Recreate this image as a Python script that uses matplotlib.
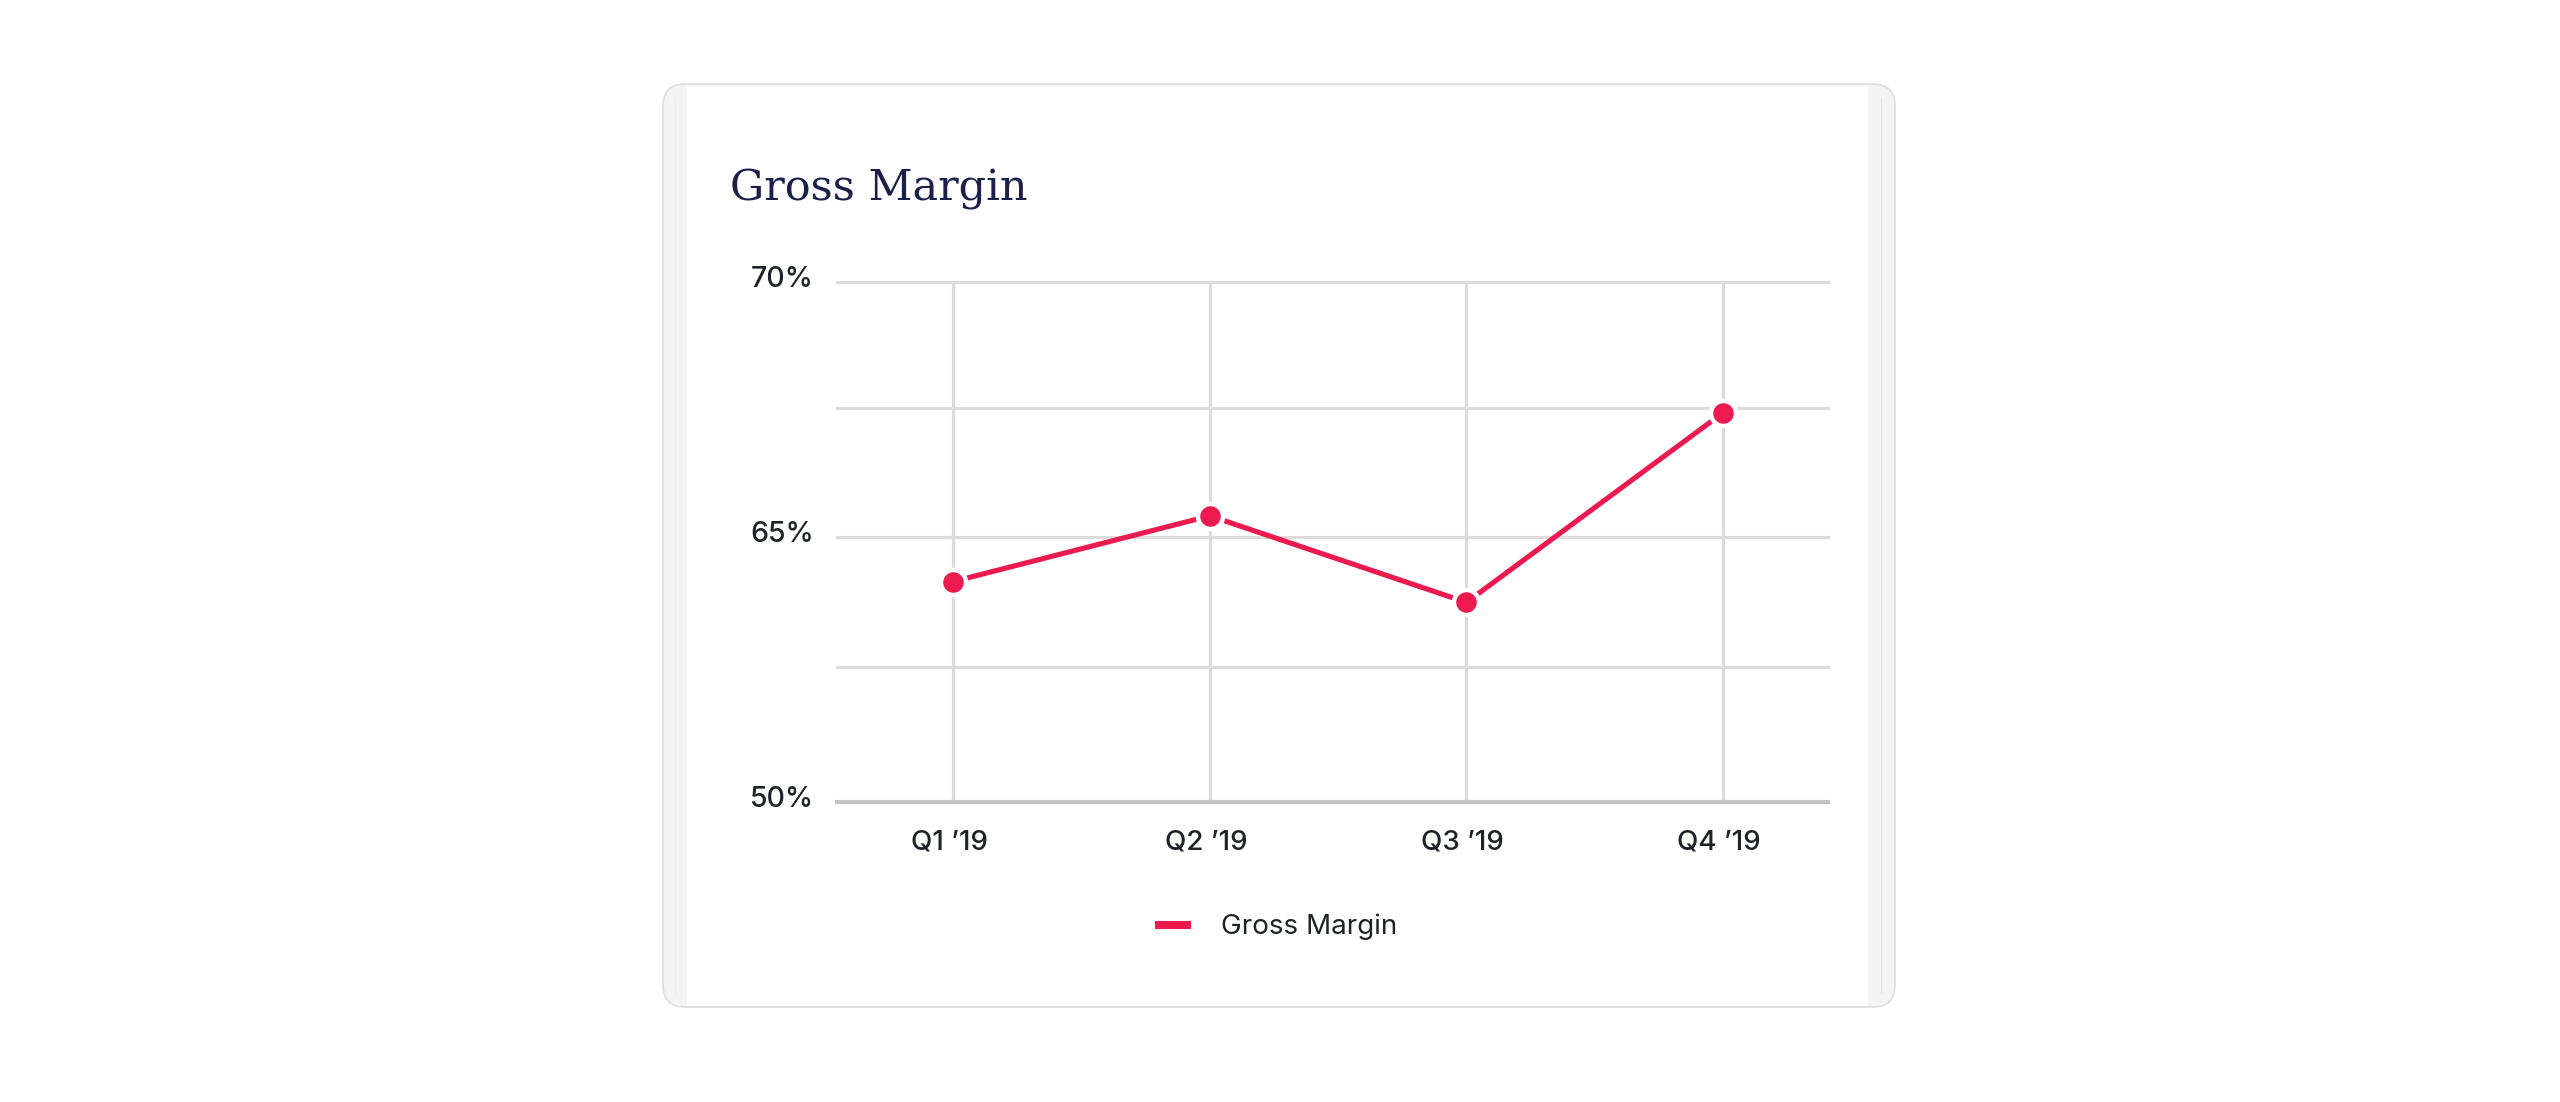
import numpy as np
import matplotlib
matplotlib.use("Agg")
import matplotlib.pyplot as plt
from matplotlib.patches import FancyBboxPatch
from matplotlib.lines import Line2D
from matplotlib.transforms import ScaledTranslation

# ---------------- data ----------------
quarters = ["Q1 \u201919", "Q2 \u201919", "Q3 \u201919", "Q4 \u201919"]
gross_margin = [62.4, 65.4, 61.2, 67.4]          # percent
tick_values = [50, 57.5, 65, 67.5, 70]
tick_labels = ["50%", "", "65%", "", "70%"]
title_text = "Gross Margin"
series_name = "Gross Margin"

# piecewise axis scale (value -> fraction of axis height)
scale_vals = [50, 57.5, 65, 67.5, 70]
scale_frac = [0.0, 0.26, 0.51, 0.758, 1.0]

RED = "#EC1A4F"
NAVY = "#1C1F4A"
TXT = "#1F2328"
SANS = ["Inter", "DejaVu Sans"]

W, H = 2560, 1102
fig = plt.figure(figsize=(W / 100, H / 100), dpi=100)
fig.patch.set_facecolor("white")

# ---------------- background card (pixel coords) ----------------
bg = fig.add_axes([0, 0, 1, 1])
bg.set_xlim(0, W)
bg.set_ylim(H, 0)
bg.axis("off")
bg.set_zorder(0)

cx0, cy0, cx1, cy1 = 663, 84, 1895, 1007
# soft shadow
n_layers = 32
for i in range(n_layers, 0, -1):
    g = i * 2.5
    bg.add_patch(FancyBboxPatch((cx0 - g, cy0 - g + 10), (cx1 - cx0) + 2 * g, (cy1 - cy0) + 2 * g,
                                boxstyle="round,pad=0,rounding_size=%d" % (22 + g),
                                facecolor="black", edgecolor="none", alpha=0.0017))
# outer card (stack edges)
bg.add_patch(FancyBboxPatch((cx0, cy0), cx1 - cx0, cy1 - cy0,
                            boxstyle="round,pad=0,rounding_size=22",
                            facecolor="#F4F4F4", edgecolor="#DDDDDD", linewidth=1.2))
# inner white card
bg.add_patch(FancyBboxPatch((687, cy0 + 1.5), 1868 - 687, cy1 - cy0 - 3,
                            boxstyle="square,pad=0",
                            facecolor="white", edgecolor="none"))
# subtle inner stack lines
bg.plot([1881, 1881], [cy0 + 14, cy1 - 14], color="#E6E6E6", lw=0.8)
bg.plot([675, 675], [cy0 + 14, cy1 - 14], color="#EEEEEE", lw=0.8)

# title
fig.text(730 / W, 1 - 200 / H, title_text, family=["DejaVu Serif"],
         fontsize=31, color=NAVY, ha="left", va="baseline")

# ---------------- chart ----------------
ax_left, ax_right = 837, 1828
ax_top, ax_bottom = 281.7, 801.7
ax = fig.add_axes([ax_left / W, 1 - ax_bottom / H, (ax_right - ax_left) / W, (ax_bottom - ax_top) / H])
ax.set_zorder(2)
ax.set_facecolor("none")

def fwd(v):
    return np.interp(v, scale_vals, scale_frac)

def inv(p):
    return np.interp(p, scale_frac, scale_vals)

ax.set_yscale("function", functions=(fwd, inv))
x = np.arange(len(quarters))
ax.set_xlim(-0.453, 3.409)
ax.set_ylim(50, 70)

ax.set_yticks(tick_values)
ax.set_yticklabels(tick_labels)
ax.set_xticks(x)
ax.set_xticklabels(quarters)
ax.yaxis.set_minor_locator(matplotlib.ticker.NullLocator())

for s in ax.spines.values():
    s.set_visible(False)
ax.tick_params(axis="both", length=0)
ax.tick_params(axis="y", pad=16.5, labelsize=20.5, labelcolor=TXT)
ax.tick_params(axis="x", pad=20, labelsize=20, labelcolor=TXT)
for lab in ax.get_yticklabels() + ax.get_xticklabels():
    lab.set_family(SANS)
    lab.set_fontweight("medium")
for lab in ax.get_yticklabels():
    lab.set_transform(lab.get_transform() + ScaledTranslation(0, 5 / 100, fig.dpi_scale_trans))
for lab in ax.get_xticklabels():
    lab.set_transform(lab.get_transform() + ScaledTranslation(-4 / 100, 0, fig.dpi_scale_trans))

ax.grid(True, axis="both", color="#DCDCDC", linewidth=2.3, zorder=0)
ax.set_axisbelow(True)
for gl in ax.get_ygridlines() + ax.get_xgridlines():
    gl.set_clip_on(False)
ax.axhline(50, color="#C4C4C4", linewidth=3.0, zorder=1, clip_on=False,
           xmin=0, xmax=1)

ax.plot(x, gross_margin, color=RED, linewidth=3.7, marker="o", markersize=18,
        markerfacecolor=RED, markeredgecolor="white", markeredgewidth=3.2,
        zorder=3, clip_on=False, solid_joinstyle="miter")

# legend
handle = Line2D([], [], color=RED, linewidth=5.8, solid_capstyle="butt")
leg = fig.legend([handle], [series_name], loc="center",
                 bbox_to_anchor=(1276 / W, 1 - 927 / H), frameon=False,
                 handlelength=1.3, handletextpad=1.05,
                 prop={"family": SANS, "size": 20})
for t in leg.get_texts():
    t.set_color(TXT)

fig.savefig("out.png", dpi=100, facecolor="white")
